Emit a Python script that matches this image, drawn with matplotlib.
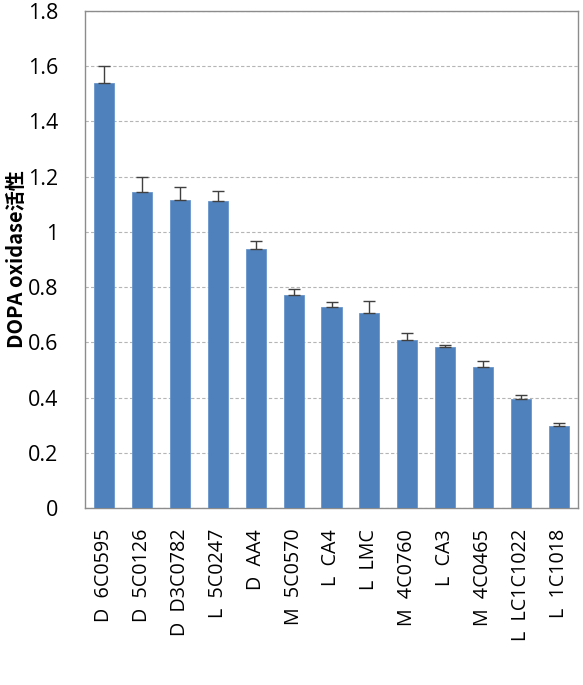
import numpy as np
from matplotlib import pyplot as plt

strains = ['D  6C0595', 'D  5C0126', 'D  D3C0782', 'L  5C0247', 'D  AA4',
           'M  5C0570', 'L  CA4', 'L  LMC', 'M  4C0760', 'L  CA3',
           'M  4C0465', 'L  LC1C1022', 'L  1C1018']
activity = [1.54, 1.145, 1.116, 1.112, 0.938, 0.772, 0.728, 0.706, 0.608,
            0.583, 0.511, 0.395, 0.297]
err_top = [1.60, 1.20, 1.163, 1.149, 0.967, 0.793, 0.746, 0.75, 0.634,
           0.59, 0.532, 0.41, 0.308]
yticks = [0, 0.2, 0.4, 0.6, 0.8, 1, 1.2, 1.4, 1.6, 1.8]
ytick_labels = ['0', '0.2', '0.4', '0.6', '0.8', '1', '1.2', '1.4', '1.6', '1.8']

plt.rcParams['font.family'] = ['Open Sans', 'Noto Sans CJK SC', 'DejaVu Sans']

fig = plt.figure(figsize=(5.83, 6.85), dpi=100)
ax = fig.add_axes([85 / 583, 1 - 508 / 685, 493 / 583, 497 / 685])

x = np.arange(len(strains))
yerr = np.array(err_top) - np.array(activity)
ax.bar(x, activity, width=0.53, color='#4f81bd', edgecolor='#6a96cc',
       linewidth=0.6, zorder=3)
ax.errorbar(x, activity, yerr=[np.zeros_like(yerr), yerr], fmt='none',
            ecolor='#404040', elinewidth=1, capsize=4, capthick=1, zorder=4)

ax.set_xlim(-0.5, len(strains) - 0.5)
ax.set_ylim(0, 1.8)
ax.set_yticks(yticks)
ax.set_yticklabels(ytick_labels, fontsize=15.5)
ax.set_xticks(x)
ax.set_xticklabels(strains, rotation=90, fontsize=14.2)
ax.tick_params(axis='y', length=0, pad=19)
ax.tick_params(axis='x', length=0, pad=15)
ax.yaxis.grid(True, linestyle=(0, (3, 2)), color='#b5b5b5', linewidth=0.8,
              zorder=0)
for side in ['left', 'right', 'top', 'bottom']:
    ax.spines[side].set_color('#8c8c8c')
    ax.spines[side].set_linewidth(1)

ax.set_ylabel('DOPA oxidase活性', fontsize=14.5, fontweight='bold',
              family=['Noto Sans CJK SC', 'DejaVu Sans'])
ax.yaxis.set_label_coords(-0.118, 0.5)

plt.savefig('out.png', dpi=100)
